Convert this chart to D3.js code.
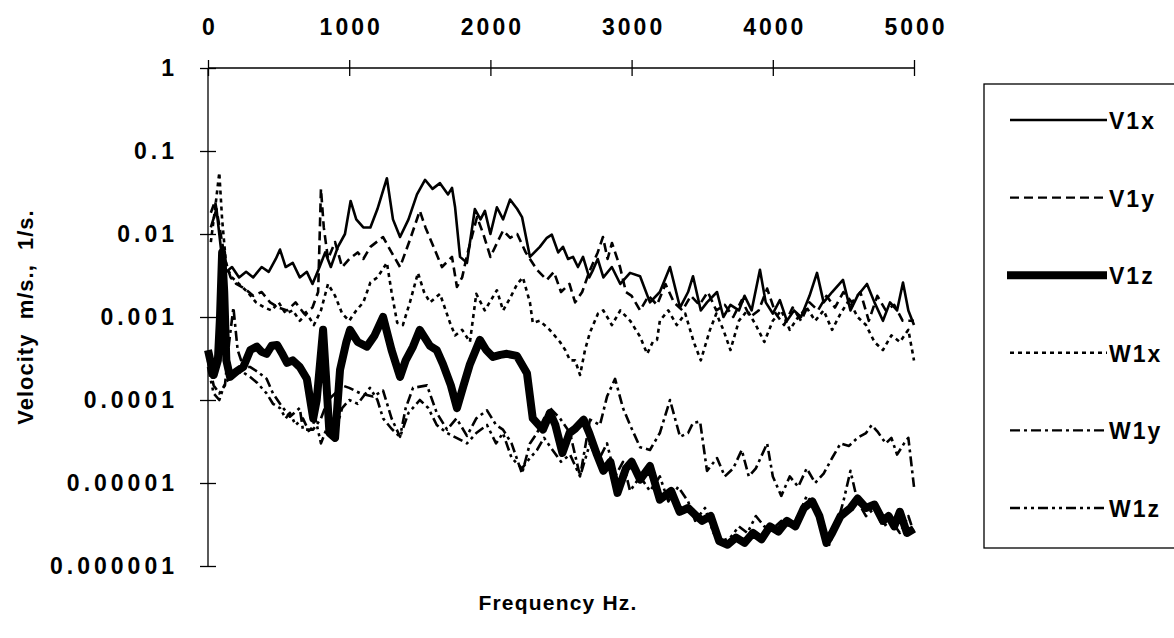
<!DOCTYPE html>
<html>
<head>
<meta charset="utf-8">
<script src="https://cdn.jsdelivr.net/npm/d3@7"></script>
<style>
  body { margin: 0; background: #fff; }
  svg text { font-family: "Liberation Sans", Arial, sans-serif; font-weight: bold; fill: #000; }
</style>
</head>
<body>
<svg id="chart" width="1174" height="638"></svg>
<script>
// tick labels
var xTicks = [0, 1000, 2000, 3000, 4000, 5000];
var yTicks = [1, 0.1, 0.01, 0.001, 0.0001, 0.00001, 0.000001];
var yTickLabels = ["1", "0.1", "0.01", "0.001", "0.0001", "0.00001", "0.000001"];

// series: [frequency Hz, velocity]
var v1x = [[20,0.012],[60,0.02],[100,0.005],[130,0.0035],[170,0.004],[220,0.003],[270,0.0035],[320,0.003],[380,0.004],[430,0.0035],[480,0.005],[510,0.0065],[550,0.004],[600,0.0045],[650,0.003],[700,0.0035],[740,0.0025],[790,0.004],[830,0.006],[870,0.004],[920,0.007],[970,0.01],[1010,0.025],[1050,0.015],[1100,0.012],[1150,0.012],[1200,0.02],[1267,0.047],[1310,0.015],[1360,0.0092],[1420,0.015],[1480,0.03],[1537,0.045],[1590,0.035],[1643,0.041],[1700,0.03],[1728,0.036],[1750,0.021],[1785,0.0053],[1834,0.0045],[1890,0.02],[1930,0.015],[1961,0.019],[2000,0.01],[2046,0.021],[2090,0.015],[2139,0.026],[2190,0.02],[2224,0.016],[2280,0.0053],[2350,0.007],[2400,0.009],[2435,0.0098],[2480,0.006],[2514,0.007],[2550,0.005],[2585,0.0053],[2620,0.004],[2656,0.0053],[2700,0.003],[2727,0.0037],[2760,0.005],[2800,0.003],[2860,0.004],[2920,0.0025],[2989,0.0034],[3060,0.0031],[3130,0.0015],[3200,0.002],[3272,0.004],[3343,0.0013],[3400,0.002],[3435,0.0031],[3490,0.0012],[3534,0.0015],[3605,0.002],[3650,0.001],[3700,0.0014],[3760,0.0012],[3800,0.0018],[3850,0.0012],[3909,0.0037],[3950,0.0015],[4000,0.0011],[4050,0.0016],[4100,0.0009],[4150,0.0012],[4200,0.001],[4260,0.0018],[4313,0.0034],[4360,0.0015],[4420,0.002],[4497,0.0028],[4550,0.0012],[4600,0.0018],[4667,0.0025],[4720,0.0015],[4780,0.0009],[4830,0.0015],[4880,0.0012],[4922,0.0026],[4960,0.0012],[5000,0.0008]];

var v1y = [[20,0.018],[50,0.025],[90,0.01],[120,0.005],[160,0.003],[200,0.0025],[260,0.0022],[320,0.0018],[380,0.002],[440,0.0015],[500,0.0013],[560,0.0012],[620,0.0015],[680,0.0011],[740,0.0013],[780,0.002],[800,0.035],[820,0.012],[850,0.005],[900,0.008],[950,0.004],[1000,0.005],[1060,0.006],[1100,0.005],[1150,0.007],[1240,0.0092],[1300,0.006],[1360,0.004],[1430,0.0085],[1500,0.019],[1540,0.012],[1586,0.0078],[1657,0.004],[1728,0.0053],[1763,0.0023],[1800,0.003],[1834,0.0055],[1905,0.016],[1950,0.01],[2000,0.0053],[2050,0.008],[2090,0.011],[2140,0.009],[2190,0.01],[2250,0.006],[2330,0.0037],[2400,0.0028],[2450,0.0035],[2500,0.002],[2560,0.0025],[2600,0.0015],[2650,0.002],[2700,0.0035],[2760,0.006],[2797,0.0092],[2830,0.005],[2861,0.0078],[2918,0.004],[2960,0.002],[3000,0.0018],[3060,0.0012],[3120,0.0018],[3180,0.0014],[3240,0.0025],[3300,0.0015],[3360,0.0012],[3420,0.0018],[3480,0.0014],[3540,0.002],[3600,0.0012],[3660,0.0014],[3720,0.001],[3780,0.0016],[3840,0.001],[3900,0.0012],[3960,0.0022],[4020,0.0011],[4080,0.0008],[4140,0.0013],[4200,0.0009],[4260,0.0015],[4320,0.0012],[4380,0.0018],[4440,0.0013],[4500,0.002],[4560,0.0015],[4620,0.002],[4680,0.0009],[4740,0.0018],[4800,0.0012],[4860,0.0014],[4920,0.0009],[5000,0.0009]];

var v1z = [[0,0.0004],[40,0.0002],[70,0.0003],[85,0.001],[100,0.006],[115,0.002],[130,0.0003],[156,0.00019],[200,0.00022],[250,0.00025],[300,0.0004],[346,0.00044],[380,0.00038],[415,0.00036],[450,0.00045],[490,0.00046],[530,0.00035],[560,0.00028],[600,0.0003],[650,0.00025],[700,0.00018],[745,0.00006],[770,0.0001],[815,0.0007],[835,0.0002],[860,0.00004],[900,0.000035],[935,0.00023],[980,0.0005],[1006,0.0007],[1060,0.0005],[1125,0.00044],[1180,0.0006],[1240,0.001],[1300,0.0004],[1360,0.00019],[1400,0.0003],[1452,0.00044],[1500,0.0007],[1572,0.00045],[1620,0.0004],[1664,0.00027],[1720,0.00015],[1763,0.00008],[1810,0.00015],[1855,0.00027],[1926,0.00053],[1970,0.0004],[2018,0.00033],[2070,0.00035],[2117,0.00036],[2188,0.00034],[2259,0.00021],[2300,0.00006],[2372,0.000044],[2422,0.00007],[2460,0.00005],[2510,0.000023],[2560,0.00004],[2600,0.000045],[2660,0.000058],[2700,0.00004],[2750,0.000023],[2800,0.000014],[2850,0.000018],[2900,0.0000076],[2960,0.000015],[3000,0.000018],[3060,0.000011],[3130,0.000016],[3200,0.0000063],[3280,0.000008],[3340,0.0000045],[3400,0.000005],[3460,0.000004],[3500,0.0000035],[3560,0.000004],[3620,0.000002],[3680,0.0000018],[3740,0.0000022],[3800,0.0000019],[3860,0.0000025],[3920,0.0000021],[3980,0.000003],[4040,0.0000026],[4100,0.0000035],[4160,0.000003],[4220,0.000005],[4280,0.000006],[4330,0.000004],[4380,0.0000019],[4420,0.0000025],[4480,0.000004],[4550,0.000005],[4600,0.0000065],[4660,0.000005],[4720,0.0000055],[4780,0.0000035],[4820,0.000004],[4860,0.000003],[4900,0.0000045],[4950,0.0000025],[5000,0.0000028]];

var w1x = [[20,0.008],[50,0.02],[80,0.055],[100,0.015],[130,0.004],[170,0.003],[220,0.0025],[280,0.002],[340,0.0015],[400,0.0013],[450,0.0012],[500,0.0015],[550,0.0011],[600,0.0012],[650,0.0009],[700,0.0011],[750,0.0008],[800,0.0012],[850,0.0025],[900,0.0018],[950,0.0011],[1000,0.0009],[1050,0.0012],[1100,0.0015],[1150,0.0026],[1200,0.003],[1267,0.0045],[1300,0.002],[1340,0.00085],[1380,0.0008],[1430,0.0015],[1487,0.0034],[1530,0.002],[1572,0.0015],[1643,0.0019],[1714,0.00085],[1750,0.0006],[1800,0.0007],[1855,0.0005],[1900,0.0019],[1960,0.0012],[2046,0.0021],[2090,0.0012],[2140,0.0017],[2190,0.0025],[2230,0.003],[2280,0.0015],[2300,0.00085],[2350,0.0009],[2420,0.0007],[2493,0.0005],[2530,0.0004],[2564,0.0003],[2600,0.0003],[2635,0.0002],[2670,0.0004],[2705,0.00065],[2762,0.0011],[2800,0.0012],[2860,0.0008],[2920,0.0012],[2990,0.0009],[3060,0.00058],[3110,0.00036],[3150,0.0005],[3180,0.00053],[3200,0.0009],[3260,0.0012],[3320,0.0008],[3380,0.0011],[3440,0.0005],[3490,0.0003],[3555,0.0007],[3600,0.0011],[3650,0.0007],[3700,0.0004],[3760,0.0009],[3820,0.0012],[3880,0.0008],[3940,0.0005],[4000,0.0009],[4060,0.0012],[4120,0.0007],[4180,0.001],[4240,0.0013],[4300,0.0009],[4360,0.0012],[4420,0.0007],[4480,0.0011],[4540,0.0016],[4600,0.001],[4660,0.0008],[4720,0.0005],[4780,0.0004],[4840,0.0006],[4900,0.0005],[4960,0.0007],[5000,0.0003]];

var w1y = [[0,0.0003],[40,0.00015],[80,0.00012],[120,0.00015],[150,0.0005],[180,0.0013],[210,0.0004],[250,0.00025],[297,0.00025],[350,0.00022],[415,0.00018],[460,0.00012],[510,0.00009],[580,0.000063],[650,0.00008],[672,0.000044],[745,0.000044],[800,0.00006],[850,0.0001],[900,0.00012],[950,0.00015],[1000,0.00014],[1080,0.00012],[1168,0.00011],[1240,0.00013],[1300,0.00006],[1360,0.000036],[1400,0.00008],[1452,0.00014],[1551,0.00015],[1620,0.00007],[1693,0.000044],[1760,0.00006],[1834,0.000037],[1900,0.00006],[1976,0.000075],[2040,0.00005],[2089,0.000044],[2150,0.00003],[2224,0.000013],[2280,0.00003],[2330,0.00004],[2380,0.00006],[2422,0.00008],[2493,0.00006],[2564,0.00004],[2635,0.000012],[2705,0.000058],[2776,0.00005],[2826,0.00011],[2883,0.00018],[2939,0.00008],[2989,0.00005],[3060,0.000027],[3130,0.000025],[3200,0.00004],[3272,0.0001],[3343,0.000036],[3400,0.00004],[3435,0.000053],[3485,0.000055],[3534,0.000014],[3605,0.00002],[3660,0.000012],[3720,0.000015],[3780,0.000025],[3830,0.000012],[3880,0.000015],[3960,0.00003],[4000,0.000012],[4060,0.000007],[4120,0.000012],[4180,0.000009],[4240,0.000015],[4300,0.00001],[4360,0.000013],[4420,0.00002],[4480,0.00003],[4540,0.000028],[4600,0.000035],[4660,0.00004],[4700,0.00005],[4740,0.000042],[4800,0.00003],[4840,0.000035],[4880,0.000022],[4930,0.00003],[4960,0.000035],[5000,0.000009]];

var w1z = [[0,0.00025],[40,0.00012],[80,0.0001],[120,0.00016],[180,0.0002],[240,0.00022],[297,0.00019],[350,0.00016],[415,0.00012],[460,0.00009],[510,0.00008],[550,0.00006],[580,0.00007],[620,0.00005],[672,0.00006],[720,0.00004],[760,0.00006],[800,0.00003],[850,0.00005],[900,0.00004],[950,0.00008],[1000,0.0001],[1060,0.00009],[1147,0.00014],[1200,0.0001],[1240,0.00006],[1300,0.000045],[1360,0.000036],[1420,0.00007],[1500,0.0001],[1560,0.00008],[1620,0.00005],[1693,0.00004],[1760,0.000035],[1834,0.00003],[1900,0.00004],[1976,0.00005],[2040,0.00003],[2089,0.00004],[2150,0.00002],[2224,0.000015],[2280,0.00002],[2330,0.000025],[2380,0.000035],[2440,0.000025],[2500,0.000018],[2564,0.000022],[2635,0.000012],[2705,0.00003],[2760,0.000018],[2826,0.00003],[2883,0.000012],[2939,0.000018],[2989,0.000008],[3060,0.000012],[3130,0.000008],[3200,0.000012],[3260,0.000006],[3330,0.000009],[3400,0.000006],[3450,0.0000035],[3520,0.000005],[3580,0.0000025],[3640,0.000002],[3700,0.0000022],[3760,0.000003],[3820,0.0000025],[3880,0.000004],[3940,0.000003],[4000,0.0000028],[4060,0.0000035],[4120,0.000003],[4180,0.000004],[4240,0.000007],[4300,0.000005],[4360,0.000003],[4400,0.0000018],[4450,0.000003],[4500,0.000006],[4550,0.000014],[4600,0.000006],[4660,0.000004],[4720,0.000005],[4780,0.000003],[4840,0.0000035],[4900,0.0000025],[4960,0.000004],[5000,0.0000025]];

var seriesNames = ["V1x", "V1y", "V1z", "W1x", "W1y", "W1z"];
var seriesData = [v1x, v1y, v1z, w1x, w1y, w1z];
var seriesWidth = [2.6, 2.6, 8, 2.6, 2.6, 2.6];
var seriesDash = ["none", "9,5", "none", "4,4", "10,4,3,4", "10,4,3,4,3,4"];

var svg = d3.select("#chart");
var plot = { left: 208, right: 914, top: 68, bottom: 566 };

var x = d3.scaleLinear().domain([0, 5000]).range([plot.left, plot.right]);
var y = d3.scaleLog().domain([0.000001, 1]).range([plot.bottom, plot.top]);

// lines
var line = d3.line().x(d => x(d[0])).y(d => y(d[1]));
var g_lines = svg.append("g");
seriesData.forEach(function (d, i) {
    g_lines.append("path").datum(d)
        .attr("d", line)
        .attr("fill", "none")
        .attr("stroke", "#000")
        .attr("stroke-width", seriesWidth[i])
        .attr("stroke-dasharray", seriesDash[i])
        .attr("stroke-linejoin", "round");
});

// top axis, ticks cross the line
var xAxis = d3.axisTop(x).tickValues(xTicks).tickSize(8).tickPadding(25).tickFormat(d3.format("d"));
var gx = svg.append("g").attr("transform", "translate(0," + plot.top + ")").call(xAxis);
gx.select(".domain").attr("d", "M" + plot.left + ",0H" + plot.right).attr("stroke-width", 1.3);
gx.selectAll(".tick line").attr("y1", -8).attr("y2", 8).attr("stroke-width", 1.3);
gx.selectAll(".tick text").attr("font-size", 23).attr("letter-spacing", 3).attr("font-family", null)
    .attr("dx", 1.5);

// left axis
var yAxis = d3.axisLeft(y).tickValues(yTicks).tickSize(8).tickPadding(22)
    .tickFormat((d, i) => yTickLabels[i]);
var gy = svg.append("g").attr("transform", "translate(" + plot.left + ",0)").call(yAxis);
gy.select(".domain").attr("d", "M0," + plot.top + "V" + plot.bottom).attr("stroke-width", 1.3);
gy.selectAll(".tick line").attr("x1", -8).attr("x2", 8).attr("stroke-width", 1.3);
gy.selectAll(".tick text").attr("font-size", 23).attr("letter-spacing", 4).attr("font-family", null);

// axis titles
svg.append("text").attr("x", 558).attr("y", 610).attr("text-anchor", "middle")
    .attr("font-size", 21).attr("letter-spacing", 1.2).text("Frequency Hz.");
svg.append("text").attr("transform", "translate(33,317) rotate(-90)").attr("text-anchor", "middle")
    .attr("font-size", 22).attr("letter-spacing", 1).attr("xml:space", "preserve").text("Velocity  m/s.,  1/s.");

// legend
var lg = svg.append("g");
lg.append("rect").attr("x", 984).attr("y", 84).attr("width", 200).attr("height", 464)
    .attr("fill", "none").attr("stroke", "#000").attr("stroke-width", 1.3);
var legendY = d3.scalePoint().domain(seriesNames).range([120, 508]);
seriesNames.forEach(function (name, i) {
    var ly = legendY(name);
    lg.append("line").attr("x1", i === 2 ? 1007 : 1010).attr("x2", 1107).attr("y1", ly).attr("y2", ly)
        .attr("stroke", "#000").attr("stroke-width", i === 2 ? 8 : 2.4)
        .attr("stroke-dasharray", seriesDash[i]);
    lg.append("text").attr("x", 1109).attr("y", ly + 9).attr("font-size", 23)
        .attr("letter-spacing", 2).text(name);
});
</script>
</body>
</html>
